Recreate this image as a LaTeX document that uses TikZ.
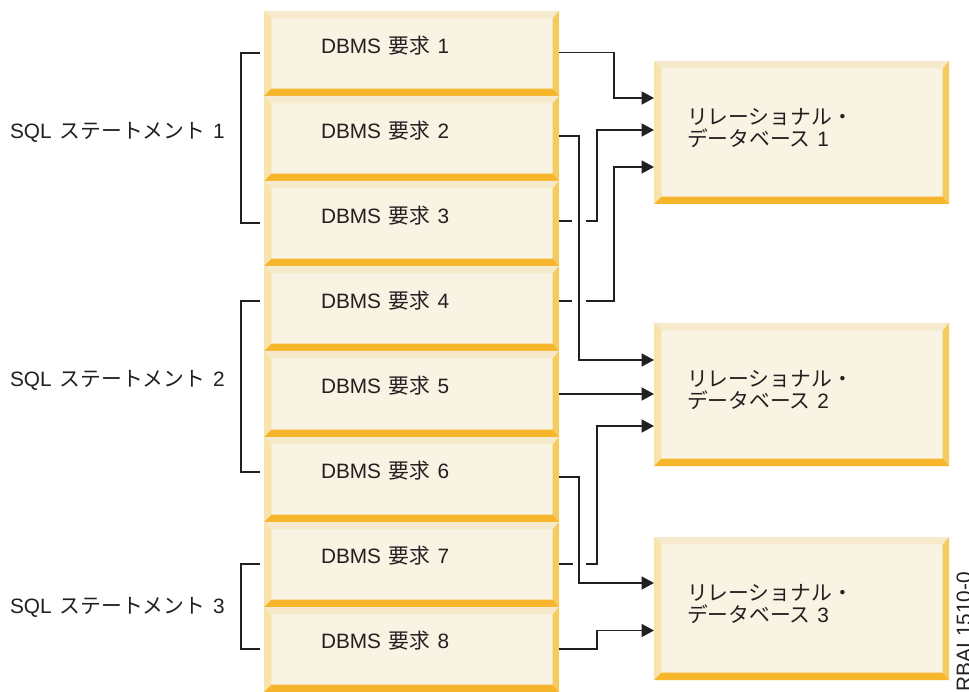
\documentclass[tikz,border=0pt]{standalone}
\usepackage{fontspec}
\setmainfont{Liberation Sans}
\newfontfamily\cjk{Noto Sans CJK JP}
\usetikzlibrary{arrows.meta}
\newcommand{\gapsp}{\hspace{7.5pt}}
\newcommand{\dbms}[1]{DBMS\gapsp{\cjk 要求}\gapsp #1}
\newcommand{\sqltxt}[1]{SQL\hspace{8pt}{\cjk ステートメント}\hspace{8pt}#1}
\tikzset{
  x=1pt,y=-1pt,
  bevelbox/.style={inner sep=0pt,outer sep=0pt,minimum width=295pt,minimum height=#1,
    path picture={
      \def\bw{7.3pt}
      \coordinate (NW) at (path picture bounding box.north west);
      \coordinate (NE) at (path picture bounding box.north east);
      \coordinate (SW) at (path picture bounding box.south west);
      \coordinate (SE) at (path picture bounding box.south east);
      \fill[faceC] (NW) rectangle (SE);
      \fill[topC] (NW) -- (NE) -- ([shift={(-\bw,-\bw)}]NE) -- ([shift={(\bw,-\bw)}]NW) -- cycle;
      \fill[leftC] (NW) -- ([shift={(\bw,-\bw)}]NW) -- ([shift={(\bw,\bw)}]SW) -- (SW) -- cycle;
      \fill[rightC] (NE) -- ([shift={(-6.3pt,-\bw)}]NE) -- ([shift={(-6.3pt,\bw)}]SE) -- (SE) -- cycle;
      \fill[bottomC] (SW) -- ([shift={(\bw,\bw)}]SW) -- ([shift={(-6.3pt,\bw)}]SE) -- (SE) -- cycle;
    }},
  lab/.style={inner sep=0pt,outer sep=0pt,anchor=base west,text=inkC,font=\fontsize{20.8}{22}\selectfont},
  conn/.style={draw=inkC,line width=1.9pt},
  arr/.style={conn,-{Triangle[length=12.5pt,width=13pt]}},
}
\definecolor{faceC}{HTML}{F8F3E2}
\definecolor{topC}{HTML}{F5EACC}
\definecolor{leftC}{HTML}{F8E3AB}
\definecolor{rightC}{HTML}{F5CB60}
\definecolor{bottomC}{HTML}{F6B52B}
\definecolor{inkC}{HTML}{231F20}
\begin{document}
\begin{tikzpicture}
\useasboundingbox (0,0) rectangle (969,692);
\fill[white] (0,0) rectangle (969,692);
% request stack
\node[bevelbox=85pt] (b1) at (411.5,53.5) {};
\node[bevelbox=85pt] (b2) at (411.5,138.5) {};
\node[bevelbox=85pt] (b3) at (411.5,223.5) {};
\node[bevelbox=85pt] (b4) at (411.5,308.5) {};
\node[bevelbox=86pt] (b5) at (411.5,394) {};
\node[bevelbox=85pt] (b6) at (411.5,479.5) {};
\node[bevelbox=85pt] (b7) at (411.5,564.5) {};
\node[bevelbox=85pt] (b8) at (411.5,649.5) {};
\node[lab] (t1) at (321,53.6) {\dbms{1}};
\node[lab] (t2) at (321,138.6) {\dbms{2}};
\node[lab] (t3) at (321,223.6) {\dbms{3}};
\node[lab] (t4) at (321,308.6) {\dbms{4}};
\node[lab] (t5) at (321,393.3) {\dbms{5}};
\node[lab] (t6) at (321,478.3) {\dbms{6}};
\node[lab] (t7) at (321,563.3) {\dbms{7}};
\node[lab] (t8) at (321,648.6) {\dbms{8}};
% databases
\node[bevelbox=143pt] (d1) at (801.5,132.5) {};
\node[bevelbox=143pt] (d2) at (801.5,394.5) {};
\node[bevelbox=143pt] (d3) at (801.5,608.5) {};
\node[lab] (d1a) at (687,124.5) {{\cjk リレーショナル・}};
\node[lab] (d1b) at (687,146.5) {{\cjk データベース}\hspace{6.6pt}1};
\node[lab] (d2a) at (687,386.5) {{\cjk リレーショナル・}};
\node[lab] (d2b) at (687,408.5) {{\cjk データベース}\hspace{6.6pt}2};
\node[lab] (d3a) at (687,600.5) {{\cjk リレーショナル・}};
\node[lab] (d3b) at (687,622.5) {{\cjk データベース}\hspace{6.6pt}3};
% statements
\node[lab] (s1) at (10,138.5) {\sqltxt{1}};
\node[lab] (s2) at (10,386.5) {\sqltxt{2}};
\node[lab] (s3) at (10,613) {\sqltxt{3}};
% brackets
\coordinate (k1a) at (260,53);\coordinate (k1b) at (260,223);
\coordinate (k2a) at (260,301);\coordinate (k2b) at (260,472);
\coordinate (k3a) at (260,564);\coordinate (k3b) at (260,649);
\draw[conn] (k1a) -- (241,53) -- (241,223) -- (k1b);
\draw[conn] (k2a) -- (241,301) -- (241,472) -- (k2b);
\draw[conn] (k3a) -- (241,564) -- (241,649) -- (k3b);
% connectors
\draw[arr] (b1.east |- 0,52.5) -| (614,98) -- (d1.west |- 0,98);
\draw[arr] (b2.east |- 0,136) -| (579,360) -- (d2.west |- 0,360);
\coordinate (g3) at (586,221);
\draw[conn] (b3.east |- 0,221) -- (572,221);
\draw[arr] (g3) -| (597,130) -- (d1.west |- 0,130);
\coordinate (g4) at (586,301);
\draw[conn] (b4.east |- 0,301) -- (572,301);
\draw[arr] (g4) -| (614,167) -- (d1.west |- 0,167);
\draw[arr] (b5.east |- 0,394) -- (d2.west |- 0,394);
\draw[arr] (b6.east |- 0,477) -| (579,583) -- (d3.west |- 0,583);
\coordinate (g7) at (586,564);
\draw[conn] (b7.east |- 0,564) -- (573,564);
\draw[arr] (g7) -| (597,426) -- (d2.west |- 0,426);
\draw[arr] (b8.east |- 0,649) -| (597,630.5) -- (d3.west |- 0,630.5);
% figure id
\node[inner sep=0pt,anchor=base east,rotate=90,text=inkC,font=\fontsize{20.8}{22}\selectfont] (rid) at (971,572) {RBAI 1510-0};
\end{tikzpicture}
\end{document}
